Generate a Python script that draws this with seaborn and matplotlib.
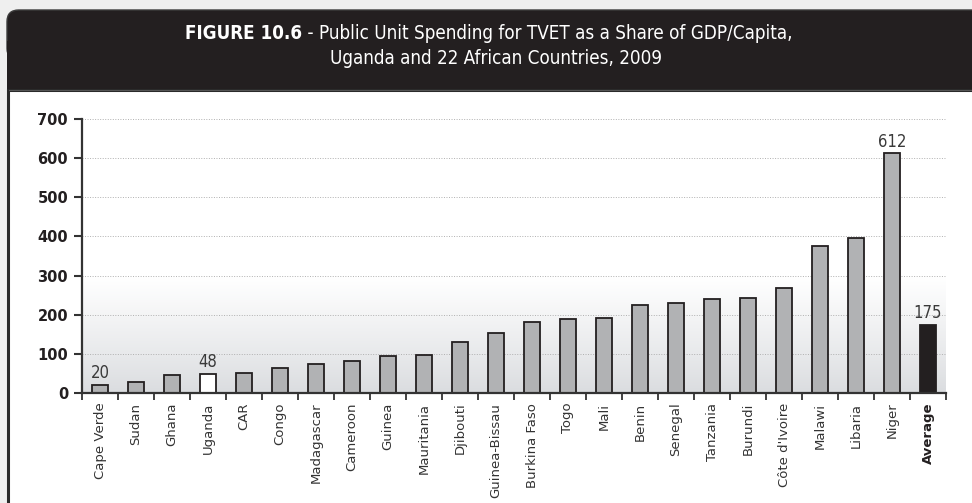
import numpy as np
import pandas as pd
import matplotlib
matplotlib.use("Agg")
import matplotlib.pyplot as plt
from matplotlib.patches import FancyBboxPatch, Rectangle
import seaborn as sns

countries = ["Cape Verde", "Sudan", "Ghana", "Uganda", "CAR", "Congo", "Madagascar",
             "Cameroon", "Guinea", "Mauritania", "Djibouti", "Guinea-Bissau",
             "Burkina Faso", "Togo", "Mali", "Benin", "Senegal", "Tanzania",
             "Burundi", "Côte d'Ivoire", "Malawi", "Libaria", "Niger", "Average"]
values = [20, 29, 45, 48, 52, 63, 74, 82, 94, 98, 131, 153, 181, 190, 191, 224,
          231, 239, 242, 268, 375, 396, 612, 175]
labelled = {"Cape Verde": "20", "Uganda": "48", "Niger": "612", "Average": "175"}
yticks = [0, 100, 200, 300, 400, 500, 600, 700]

GRAY = "#b1b2b4"
DARK = "#231f20"
colors = {c: GRAY for c in countries}
colors["Uganda"] = "#ffffff"
colors["Average"] = DARK

sns.set_theme(style="white")
plt.rcParams["font.family"] = ["DejaVu Sans"]

fig = plt.figure(figsize=(9.72, 5.03), dpi=100)
fig.patch.set_facecolor("#efefef")

# panel header and body
fig.patches.append(FancyBboxPatch((7 / 972, 1 - 60 / 503), 1.1, 50 / 503,
                                  boxstyle="round,pad=0,rounding_size=0.012",
                                  transform=fig.transFigure, facecolor=DARK,
                                  edgecolor="#3c3c3c", linewidth=1.0, zorder=-3,
                                  mutation_aspect=972 / 503))
fig.patches.append(Rectangle((7 / 972, 1 - 91 / 503), 1.1, 50 / 503,
                             transform=fig.transFigure, facecolor=DARK,
                             edgecolor="none", zorder=-2.5))
fig.patches.append(Rectangle((7.5 / 972, -0.1), 1.1, (503 - 90) / 503 + 0.1,
                             transform=fig.transFigure, facecolor="white",
                             edgecolor="#2a2a2a", linewidth=2.2, zorder=-2))
fig.patches.append(Rectangle((8.6 / 972, 1 - 91 / 503), 1.1, 1.5 / 503,
                             transform=fig.transFigure, facecolor="#555555",
                             edgecolor="none", zorder=-1))

ax = fig.add_axes([82 / 972, 1 - 393 / 503, (946 - 82) / 972, (393 - 119) / 503])
ax.set_zorder(2)
ax.set_facecolor("none")

df = pd.DataFrame({"country": countries, "value": values})
n = len(countries)

# gradient background
grad = np.linspace(0, 1, 256)
rgb_top = np.array([1.0, 1.0, 1.0])
rgb_bot = np.array([0.855, 0.863, 0.875])
t = np.clip(grad / 0.42, 0, 1) ** 0.9
img = (rgb_bot[None, :] * (1 - t[:, None]) + rgb_top[None, :] * t[:, None])
img = np.repeat(img[:, None, :], 2, axis=1)
ax.imshow(img, origin="lower", aspect="auto", extent=(-0.5, n - 0.5, 0, 700), zorder=0)

for y in yticks[1:]:
    ax.axhline(y, color="#b0b0b0", linestyle=(0, (1, 1.6)), linewidth=0.7, zorder=1)

sns.barplot(data=df, x="country", y="value", hue="country", palette=colors,
            legend=False, width=0.42, edgecolor=DARK, linewidth=1.3, ax=ax,
            zorder=3, saturation=1)

for i, (c, v) in enumerate(zip(countries, values)):
    if c in labelled:
        ax.text(i, v + 7, labelled[c], ha="center", va="bottom", fontsize=12,
                color="#3a3a3a", family=["DejaVu Sans"], fontstretch="condensed",
                zorder=4)

ax.set_xlim(-0.5, n - 0.5)
ax.set_ylim(0, 700)
ax.set_yticks(yticks)
ax.set_yticklabels([str(v) for v in yticks], fontweight="bold", fontsize=10.5,
                   color=DARK)
ax.set_xticks(range(n))
ax.set_xticklabels(countries, rotation=90, fontsize=9.5, color="#333333")
for lbl in ax.get_xticklabels():
    if lbl.get_text() == "Average":
        lbl.set_fontweight("bold")
        lbl.set_color(DARK)
ax.tick_params(axis="x", length=0, pad=7)
ax.tick_params(axis="y", length=6, width=1.5, color="#333333", direction="out",
               left=True, pad=4)
ax.set_xticks(np.arange(-0.5, n, 1), minor=True)
ax.tick_params(axis="x", which="minor", length=5, width=1.3, color="#333333",
               direction="out", bottom=True)
ax.set_xlabel("")
ax.set_ylabel("")
for s in ["top", "right"]:
    ax.spines[s].set_visible(False)
for s in ["left", "bottom"]:
    ax.spines[s].set_color("#333333")
    ax.spines[s].set_linewidth(1.6)
    ax.spines[s].set_zorder(5)

# title
title_font = dict(family=["DejaVu Sans"], fontstretch="condensed", fontsize=13.5,
                  color="white")
renderer = fig.canvas.get_renderer()
t1 = fig.text(0, 0, "FIGURE 10.6", fontweight="bold", **title_font)
t2 = fig.text(0, 0, " - Public Unit Spending for TVET as a Share of GDP/Capita,",
              **title_font)
w1 = t1.get_window_extent(renderer).width / fig.bbox.width
w2 = t2.get_window_extent(renderer).width / fig.bbox.width
x0 = 0.503 - (w1 + w2) / 2
ty = 1 - 33 / 503
t1.set_position((x0, ty)); t1.set_va("center")
t2.set_position((x0 + w1, ty)); t2.set_va("center")
fig.text(0.51, 1 - 59 / 503, "Uganda and 22 African Countries, 2009",
         ha="center", va="center", **title_font)

fig.savefig("out.png", dpi=100, facecolor=fig.get_facecolor())
